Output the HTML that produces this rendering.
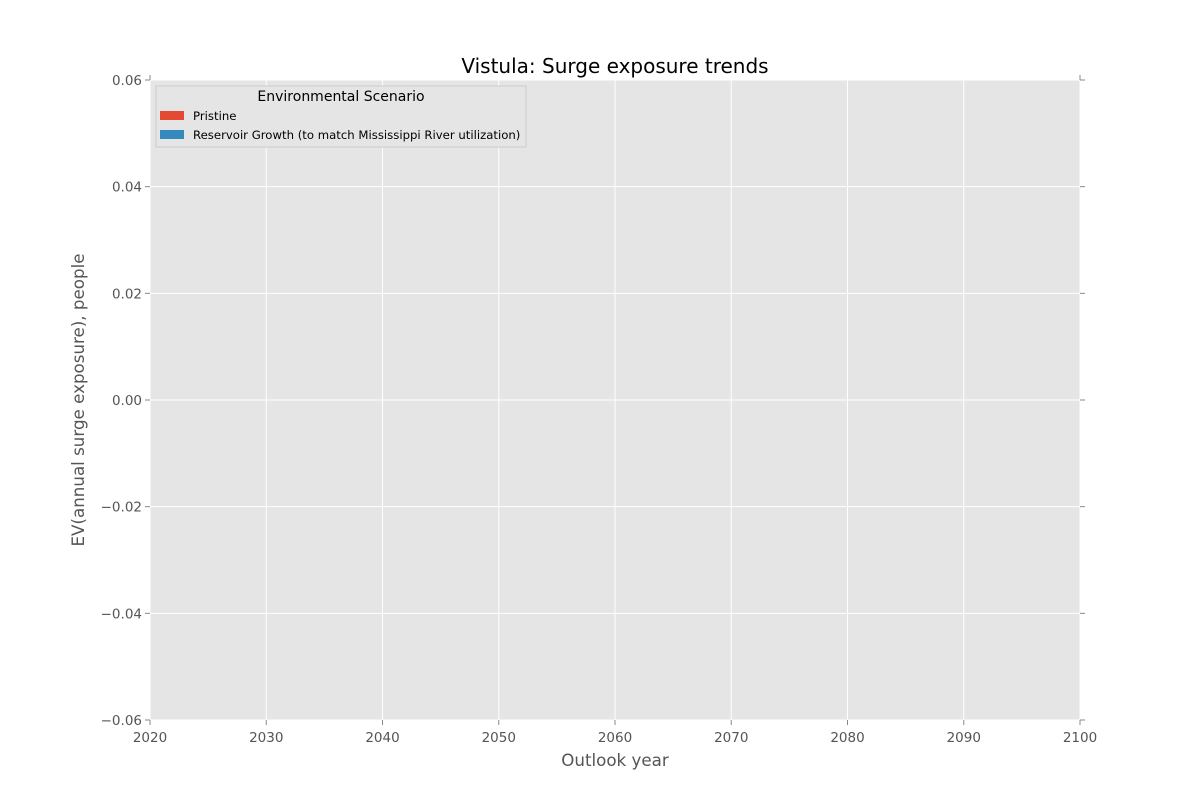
<!DOCTYPE html>
<html><head><meta charset="utf-8"><style>
body{margin:0;background:#fff;}
svg text{font-family:"DejaVu Sans","Liberation Sans",sans-serif;}
</style></head><body>
<svg id="chart" width="1200" height="800" xmlns="http://www.w3.org/2000/svg">
<rect x="0" y="0" width="1200" height="800" fill="#fff"/>
<rect x="150" y="80" width="930" height="640" fill="#e5e5e5"/>
<g id="grid"></g>
<g id="marks"></g>
<g id="ticks"></g>
<text x="615" y="73" font-size="20" text-anchor="middle" fill="#000">Vistula: Surge exposure trends</text>
<text x="615" y="766" font-size="16.7" text-anchor="middle" fill="#555">Outlook year</text>
<text transform="translate(84,400) rotate(-90)" font-size="16.7" text-anchor="middle" fill="#555">EV(annual surge exposure), people</text>
<g>
<rect x="156" y="86" width="370" height="61" fill="#e5e5e5" stroke="#ccc" stroke-width="1"/>
<text x="341" y="101" font-size="14" text-anchor="middle" fill="#000">Environmental Scenario</text>
<g>
<rect x="160" y="111" width="24" height="9" fill="#E24A33"/>
<text x="193" y="120" font-size="11.7" fill="#000">Pristine</text>
</g>
<g>
<rect x="160" y="130" width="24" height="9" fill="#348ABD"/>
<text x="193" y="139" font-size="11.7" fill="#000">Reservoir Growth (to match Mississippi River utilization)</text>
</g>
</g>
</svg>
<script>
const xTicks = [2020, 2030, 2040, 2050, 2060, 2070, 2080, 2090, 2100];
const yTicks = [-0.06, -0.04, -0.02, 0.00, 0.02, 0.04, 0.06];
const yTickLabels = ["\u22120.06", "\u22120.04", "\u22120.02", "0.00", "0.02", "0.04", "0.06"];
const years = [];
const pristineValues = [];
const reservoirValues = [];

const NS = "http://www.w3.org/2000/svg";
const X0 = 150, X1 = 1080, Y0 = 720, Y1 = 80;
function xs(v){ return X0 + (v - 2020) / 80 * (X1 - X0); }
function ys(v){ return Y0 - (v + 0.06) / 0.12 * (Y0 - Y1); }
function mk(tag, attrs, parent){ const e = document.createElementNS(NS, tag); for (const k in attrs) e.setAttribute(k, attrs[k]); parent.appendChild(e); return e; }

const grid = document.getElementById('grid');
const ticks = document.getElementById('ticks');
xTicks.forEach(function(t, i){
  const x = xs(t);
  const g = mk('line', {x1:x, x2:x, y1:Y1, y2:Y0, stroke:'#fff', 'stroke-width':1}, grid);
  
  
  const a = mk('line', {x1:x, x2:x, y1:Y0, y2:Y0+5, stroke:'#888', 'stroke-width':1}, ticks);
  
  
  if (i === 0 || i === xTicks.length - 1) {
    const b = mk('line', {x1:x, x2:x, y1:Y1, y2:Y1-5, stroke:'#888', 'stroke-width':1}, ticks);
    
    
  }
  const l = mk('text', {x:x, y:Y0+22, 'font-size':13.5, 'text-anchor':'middle', fill:'#555'}, ticks);
  l.textContent = String(t);
  
  
});
yTicks.forEach(function(t, i){
  const y = ys(t);
  const g = mk('line', {x1:X0, x2:X1, y1:y, y2:y, stroke:'#fff', 'stroke-width':1}, grid);
  
  
  const a = mk('line', {x1:X0-5, x2:X0, y1:y, y2:y, stroke:'#888', 'stroke-width':1}, ticks);
  
  
  const b = mk('line', {x1:X1, x2:X1+5, y1:y, y2:y, stroke:'#888', 'stroke-width':1}, ticks);
  
  
  const l = mk('text', {x:X0-8, y:y+5, 'font-size':13.5, 'text-anchor':'end', fill:'#555'}, ticks);
  l.textContent = yTickLabels[i];
  
  
});
const marks = document.getElementById('marks');
function drawSeries(vals, color, name){
  if (!vals.length) return;
  const pts = years.map(function(yr, i){ return xs(yr) + ',' + ys(vals[i]); }).join(' ');
  const p = mk('polyline', {points:pts, fill:'none', stroke:color, 'stroke-width':2}, marks);
  
  
}
drawSeries(pristineValues, '#E24A33', 'series-pristine');
drawSeries(reservoirValues, '#348ABD', 'series-reservoir-growth');
</script>
</body></html>
